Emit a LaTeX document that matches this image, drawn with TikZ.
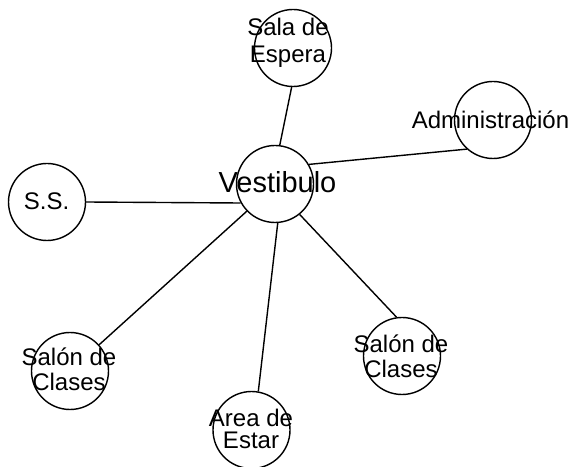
\documentclass[tikz,border=0pt]{standalone}
\usepackage{fontspec}
\setmainfont{Liberation Sans}
\usepackage{tikz}

\begin{document}
\begin{tikzpicture}[x=1pt,y=1pt,
    room/.style={draw,circle,line width=1.4pt,minimum size=77pt,inner sep=0pt},
    roomname/.style={align=center,inner sep=0pt,font=\fontsize{24}{25}\selectfont},
    link/.style={line width=1.4pt}]
    \useasboundingbox (0,0) rectangle (573,466);

    % rooms
    \node[room] (vest) at (275,282) {};
    \node[room] (sala) at (293,418) {};
    \node[room] (admin) at (493,346) {};
    \node[room] (ss) at (47,264) {};
    \node[room] (salonL) at (70,95) {};
    \node[room] (area) at (251.5,36) {};
    \node[room] (salonR) at (402,110) {};

    % names
    \node[roomname,font=\fontsize{29}{30}\selectfont] (vestname) at (277.5,283.5) {Vestibulo};
    \node[roomname,font=\fontsize{24}{27}\selectfont] (salaname) at (288,422.8) {Sala de\\Espera};
    \node[roomname] (adminname) at (490.5,346.7) {Administración};
    \node[roomname] (ssname) at (46.5,265) {S.S.};
    \node[roomname] (salonLname) at (69,97.2) {Salón de\\Clases};
    \node[roomname,font=\fontsize{24}{22.5}\selectfont] (areaname) at (251,37) {Area de\\Estar};
    \node[roomname] (salonRname) at (401,110.2) {Salón de\\Clases};

    % links
    \draw[link] (vest.83) -- (sala.268);
    \draw[link] (vest.30) -- (admin.228);
    \draw[link] (vest.209) -- (ss.east);
    \draw[link] (vest.224) -- (salonL.42);
    \draw[link] (vest.274) -- (area.80);
    \draw[link] (vest.309) -- (salonR.98);
\end{tikzpicture}
\end{document}
